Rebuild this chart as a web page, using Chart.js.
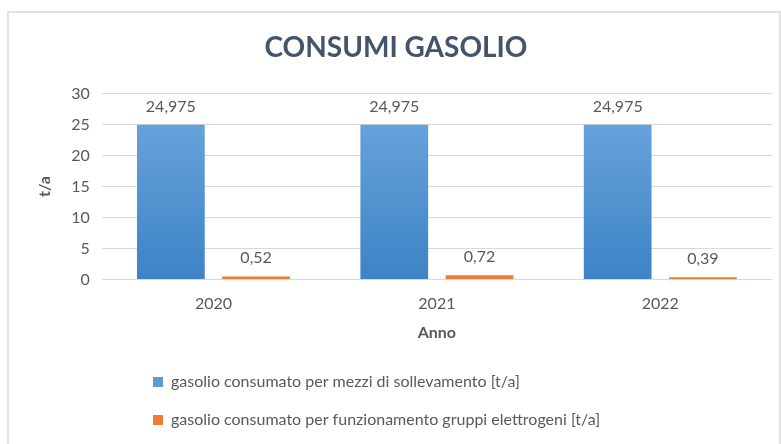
<!DOCTYPE html>
<html lang="it">
<head>
<meta charset="utf-8">
<title>Consumi gasolio</title>
<script src="https://cdn.jsdelivr.net/npm/chart.js@4.4.1/dist/chart.umd.min.js"></script>
<style>
  html, body { margin: 0; padding: 0; background: #fff; }
  #wrap { position: relative; width: 781px; height: 444px; overflow: hidden; }
  #frame { position: absolute; left: 7px; top: 11px; width: 774px; height: 470px;
           border: 2px solid #e3e3e6; box-sizing: border-box; }
  #chart { position: absolute; left: 0; top: 0; }
</style>
</head>
<body>
<div id="wrap">
  <div id="frame"></div>
  <canvas id="chart" width="781" height="444"></canvas>
</div>
<script>
  "use strict";

  // dati
  const anni = ["2020", "2021", "2022"];
  const sollevamento = [24.975, 24.975, 24.975];
  const gruppiElettrogeni = [0.52, 0.72, 0.39];
  const yMin = 0, yMax = 30, yStep = 5;

  const GREY = "#595959";
  Chart.defaults.font.family = "Lato, 'Open Sans', sans-serif";
  Chart.defaults.color = GREY;

  function fmt(v) {
    return String(v).replace(".", ",");
  }

  function blueGradient(context) {
    const area = context.chart.chartArea;
    if (!area) return "#5b9bd5";
    const g = context.chart.ctx.createLinearGradient(0, area.top, 0, area.bottom);
    g.addColorStop(0, "#6ea8de");
    g.addColorStop(1, "#3d83c6");
    return g;
  }

  // etichette valore sopra le barre
  const valueLabels = {
    id: "valueLabels",
    afterDatasetsDraw(chart) {
      const ctx = chart.ctx;
      ctx.save();
      ctx.font = "16px Lato, 'Open Sans', sans-serif";
      ctx.fillStyle = GREY;
      ctx.textAlign = "center";
      ctx.textBaseline = "alphabetic";
      chart.data.datasets.forEach((ds, i) => {
        chart.getDatasetMeta(i).data.forEach((bar, j) => {
          ctx.fillText(fmt(ds.data[j]), bar.x, bar.y - 13);
        });
      });
      ctx.restore();
    }
  };

  // la legenda in Excel parte rientrata a sinistra
  const legendIndent = {
    id: "legendIndent",
    afterLayout(chart) {
      if (chart.legend) chart.legend.left += 111;
    }
  };

  new Chart(document.getElementById("chart"), {
    type: "bar",
    data: {
      labels: anni,
      datasets: [
        {
          label: "gasolio consumato per mezzi di sollevamento [t/a]",
          data: sollevamento,
          backgroundColor: blueGradient,
          categoryPercentage: 0.763,
          barPercentage: 0.795
        },
        {
          label: "gasolio consumato per funzionamento gruppi elettrogeni [t/a]",
          data: gruppiElettrogeni,
          backgroundColor: "#ed7d31",
          categoryPercentage: 0.763,
          barPercentage: 0.795
        }
      ]
    },
    options: {
      responsive: false,
      animation: false,
      layout: { padding: { left: 20, right: 9, top: 0, bottom: 6 } },
      plugins: {
        title: {
          display: true,
          text: "CONSUMI GASOLIO",
          color: "#44546a",
          font: { size: 28, weight: "bold" },
          padding: { top: 31, bottom: 29 }
        },
        legend: {
          position: "bottom",
          align: "start",
          labels: {
            color: GREY,
            font: { size: 16 },
            boxWidth: 10,
            boxHeight: 10,
            padding: 22,
            generateLabels(chart) {
              return chart.data.datasets.map((ds, i) => ({
                text: ds.label,
                fillStyle: i === 0 ? "#5b9bd5" : "#ed7d31",
                strokeStyle: "transparent",
                lineWidth: 0,
                fontColor: GREY,
                datasetIndex: i
              }));
            }
          }
        },
        tooltip: { enabled: false }
      },
      scales: {
        x: {
          grid: { display: false, drawTicks: false },
          border: { display: false },
          ticks: { color: GREY, font: { size: 16 }, padding: 15 },
          title: {
            display: true,
            text: "Anno",
            color: GREY,
            font: { size: 16, weight: "bold" },
            padding: { top: -6, bottom: 10 }
          }
        },
        y: {
          min: yMin,
          max: yMax,
          grid: { color: "#d9d9d9", drawTicks: false },
          border: { display: false },
          ticks: { stepSize: yStep, color: GREY, font: { size: 16 }, padding: 12 },
          title: {
            display: true,
            text: "t/a",
            color: GREY,
            font: { size: 16, weight: "bold" },
            padding: { top: 15, bottom: 5 }
          }
        }
      }
    },
    plugins: [valueLabels, legendIndent]
  });
</script>
</body>
</html>
